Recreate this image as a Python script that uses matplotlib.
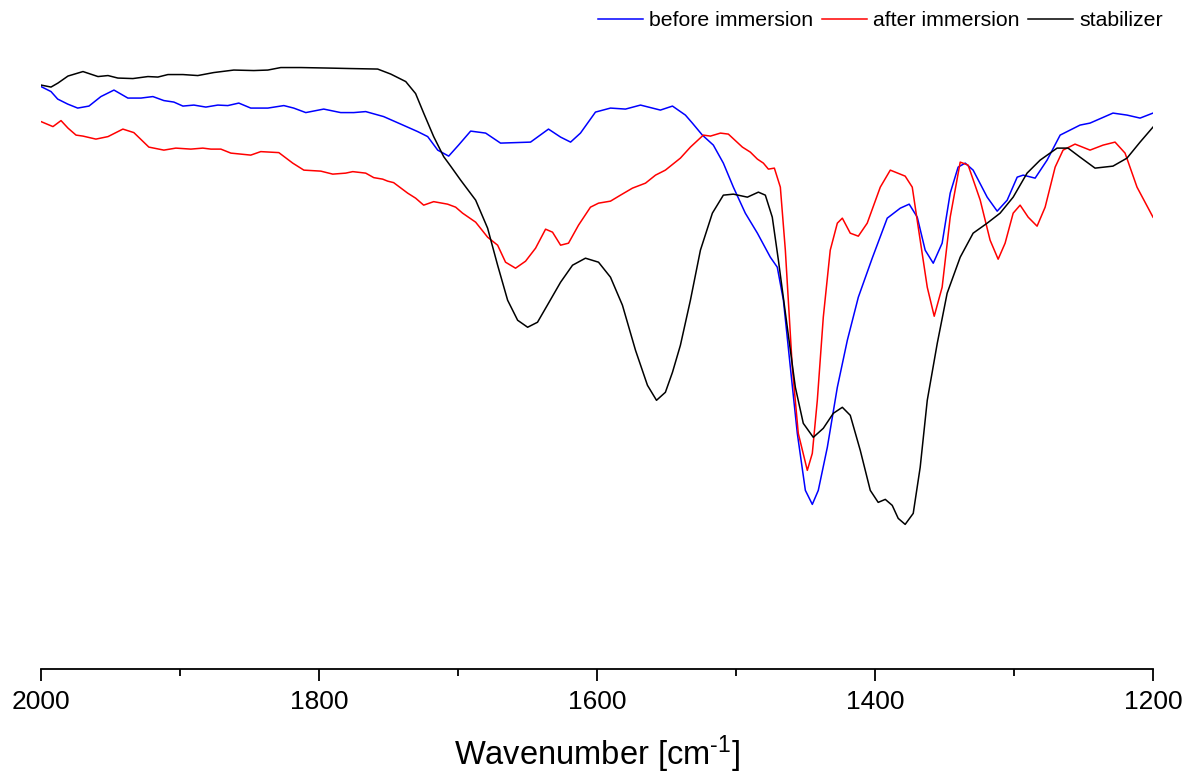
import matplotlib
matplotlib.use('Agg')
import matplotlib.pyplot as plt
from matplotlib.ticker import MultipleLocator

plt.rcParams['font.family'] = ['Liberation Sans', 'DejaVu Sans']
plt.rcParams['mathtext.default'] = 'regular'

# FTIR spectra, values (arbitrary transmittance units)
wn_before = [2000, 1992.8, 1988, 1980.8, 1973.6, 1965.5, 1956.9, 1947.5, 1937.5, 1928.1,
             1919.5, 1911.6, 1904.4, 1897.9, 1890.0, 1881.4, 1872.8, 1865.6, 1857.7, 1849.1,
             1836.8, 1825.3, 1818.2, 1809.5, 1796.6, 1784.4, 1775.0, 1766.4, 1753.5, 1741.2,
             1729.0, 1721.8, 1714.6, 1706.7, 1699.6, 1690.9, 1680.1, 1669.4, 1647.8, 1634.9,
             1626.2, 1619.0, 1611.9, 1601.1, 1590.3, 1579.5, 1568.7, 1554.4, 1545.7, 1536.4,
             1531.4, 1524.2, 1516.3, 1509.1, 1501.9, 1493.3, 1484.6, 1475.3, 1470.3, 1465.9,
             1460.9, 1455.9, 1450.1, 1445.1, 1440.8, 1434.3, 1427.1, 1419.9, 1412.0, 1402.0,
             1391.2, 1381.8, 1375.4, 1369.6, 1363.9, 1358.1, 1351.7, 1345.9, 1340.2, 1335.1,
             1329.4, 1319.3, 1312.1, 1304.9, 1297.7, 1293.4, 1284.8, 1276.2, 1266.8, 1252.5,
             1245.3, 1228.8, 1218.7, 1209.3, 1200]
t_before = [116.3, 115.3, 113.8, 112.8, 112.0, 112.4, 114.3, 115.6, 114.0, 114.0,
            114.3, 113.5, 113.2, 112.4, 112.6, 112.2, 112.6, 112.5, 113.0, 112.0,
            112.0, 112.5, 112.0, 111.1, 111.8, 111.1, 111.1, 111.3, 110.3, 108.8,
            107.3, 106.3, 103.6, 102.4, 104.6, 107.4, 107.0, 105.0, 105.2, 107.8,
            106.2, 105.2, 107.0, 111.2, 112.0, 111.8, 112.6, 111.6, 112.4, 110.6,
            109.0, 106.6, 104.6, 101.0, 96.2, 91.0, 87.0, 82.2, 80.2, 73.6,
            60.2, 47.0, 35.6, 32.8, 35.6, 44.2, 56.2, 65.6, 74.2, 82.0,
            90.0, 92.0, 92.8, 90.2, 83.6, 81.0, 85.0, 95.0, 100.2, 101.0,
            99.6, 94.2, 91.4, 93.6, 98.2, 98.6, 98.0, 101.6, 106.6, 108.6,
            109.0, 111.0, 110.6, 110.0, 111.0]

wn_after = [2000, 1991.4, 1985.6, 1980.6, 1974.8, 1969.8, 1960.5, 1951.8, 1941.1, 1933.2,
            1922.4, 1911.6, 1903.0, 1892.2, 1883.6, 1877.8, 1870.6, 1863.4, 1856.2, 1849.1,
            1841.9, 1828.9, 1818.9, 1810.9, 1798.7, 1790.1, 1780.8, 1775.7, 1766.4, 1760.6,
            1754.2, 1750.6, 1746.3, 1736.2, 1730.5, 1724.7, 1717.5, 1707.5, 1701.7, 1696.7,
            1687.3, 1678.7, 1671.5, 1665.8, 1658.6, 1651.4, 1644.2, 1637.0, 1632.0, 1626.2,
            1620.5, 1613.3, 1604.7, 1598.9, 1590.3, 1583.1, 1574.5, 1565.1, 1557.9, 1550.8,
            1540.0, 1532.8, 1523.5, 1518.4, 1511.2, 1505.5, 1495.4, 1489.7, 1484.6, 1480.3,
            1476.7, 1472.4, 1468.1, 1464.5, 1459.5, 1455.2, 1448.7, 1445.1, 1441.5, 1437.2,
            1432.2, 1427.1, 1423.5, 1417.8, 1412.0, 1405.6, 1396.2, 1389.0, 1378.3, 1373.2,
            1368.9, 1362.4, 1357.4, 1351.7, 1345.9, 1338.7, 1333.0, 1324.3, 1317.2, 1311.4,
            1306.4, 1300.6, 1295.6, 1289.8, 1283.4, 1277.6, 1270.4, 1264.7, 1256.1, 1245.3,
            1235.9, 1227.3, 1220.1, 1211.5, 1200]
t_after = [109.3, 108.3, 109.5, 108.0, 106.6, 106.4, 105.8, 106.3, 107.8, 107.1,
           104.2, 103.6, 104.0, 103.8, 104.0, 103.8, 103.8, 103.0, 102.8, 102.6,
           103.3, 103.1, 101.0, 99.6, 99.4, 98.8, 99.0, 99.3, 99.0, 98.1,
           97.8, 97.4, 97.1, 95.0, 94.0, 92.6, 93.3, 92.8, 92.2, 91.0,
           89.2, 86.2, 84.6, 81.2, 80.0, 81.4, 84.0, 87.8, 87.2, 84.6,
           85.0, 88.6, 92.2, 93.0, 93.4, 94.6, 96.0, 97.0, 98.6, 99.6,
           102.0, 104.2, 106.6, 106.4, 107.0, 106.8, 104.2, 103.2, 101.8, 101.0,
           99.8, 100.0, 96.2, 83.6, 60.2, 47.0, 39.6, 43.0, 53.6, 70.2,
           83.6, 89.0, 90.0, 87.0, 86.4, 89.0, 96.2, 99.6, 98.4, 96.2,
           88.2, 76.2, 70.4, 76.2, 90.2, 101.2, 100.6, 93.6, 85.6, 81.8,
           85.0, 91.0, 92.6, 90.2, 88.4, 92.2, 100.2, 103.6, 104.8, 103.6,
           104.6, 105.2, 103.0, 96.2, 90.2]

wn_stab = [2000, 1992.8, 1987.8, 1980.6, 1969.8, 1959.0, 1951.8, 1944.7, 1933.9, 1923.1,
           1915.9, 1908.7, 1897.9, 1887.2, 1875.7, 1861.3, 1846.9, 1836.8, 1827.5, 1813.1,
           1793.7, 1777.2, 1757.8, 1748.4, 1737.6, 1730.5, 1724.7, 1717.5, 1710.3, 1705.3,
           1698.1, 1687.3, 1678.7, 1671.5, 1664.3, 1657.1, 1649.9, 1642.8, 1634.9, 1626.2,
           1617.6, 1608.3, 1598.9, 1590.3, 1581.7, 1572.3, 1563.7, 1557.2, 1550.8, 1545.7,
           1540.0, 1532.8, 1525.6, 1517.0, 1509.1, 1501.9, 1491.8, 1483.9, 1478.9, 1473.9,
           1469.5, 1463.1, 1457.3, 1451.6, 1444.4, 1437.2, 1430.0, 1423.5, 1417.8, 1410.6,
           1403.4, 1397.7, 1392.6, 1387.6, 1383.3, 1378.3, 1372.5, 1367.5, 1362.4, 1355.2,
           1348.1, 1338.7, 1329.4, 1319.3, 1310.0, 1300.6, 1290.6, 1281.2, 1269.0, 1261.1,
           1252.5, 1241.7, 1228.8, 1218.7, 1209.3, 1200]
t_stab = [116.6, 116.2, 117.0, 118.4, 119.3, 118.3, 118.5, 118.0, 117.9, 118.3,
          118.2, 118.7, 118.7, 118.5, 119.1, 119.6, 119.5, 119.6, 120.1, 120.1,
          120.0, 119.9, 119.8, 118.8, 117.3, 114.9, 111.0, 106.3, 102.3, 100.4,
          97.6, 93.6, 88.0, 80.6, 73.6, 69.6, 68.2, 69.2, 73.0, 77.2,
          80.6, 82.0, 81.2, 78.2, 72.6, 63.6, 56.6, 53.6, 55.2, 59.2,
          64.6, 73.6, 83.6, 91.0, 94.6, 94.8, 94.2, 95.2, 94.6, 90.2,
          81.6, 68.2, 56.2, 49.0, 46.2, 48.0, 51.0, 52.2, 50.6, 43.6,
          35.6, 33.2, 33.8, 32.6, 30.0, 28.8, 31.0, 40.2, 53.6, 65.0,
          75.0, 82.2, 87.0, 89.0, 91.0, 94.2, 99.0, 101.6, 104.0, 104.0,
          102.2, 100.0, 100.4, 102.0, 105.2, 108.2]

fig = plt.figure(figsize=(11.91, 7.76), dpi=100)
ax = fig.add_axes([41 / 1191, 107.5 / 776, 1112 / 1191, 668.5 / 776])

ax.plot(wn_before, t_before, color='#0000FF', lw=1.1, label='before immersion')
ax.plot(wn_after, t_after, color='#FF0000', lw=1.1, label='after immersion')
ax.plot(wn_stab, t_stab, color='black', lw=1.1, label='stabilizer')

ax.set_xlim(2000, 1200)
ax.set_ylim(0, 133.6)
for s in ['top', 'left', 'right']:
    ax.spines[s].set_visible(False)
ax.spines['bottom'].set_linewidth(1.3)
ax.set_yticks([])
ax.xaxis.set_major_locator(MultipleLocator(200))
ax.xaxis.set_minor_locator(MultipleLocator(100))
ax.tick_params(axis='x', which='major', direction='out', length=8.6, width=1.3,
               labelsize=19, pad=7)
ax.tick_params(axis='x', which='minor', direction='out', length=5, width=1.3)
ax.set_xlabel('Wavenumber [cm$^{\u20101}$]', fontsize=23.5, labelpad=14)

fig.legend(loc='center right', bbox_to_anchor=(1163 / 1191, 1 - 21 / 776), ncol=3,
           frameon=False, fontsize=15.3, handlelength=2.1, handletextpad=0.3,
           columnspacing=0.42, borderpad=0, borderaxespad=0)

fig.savefig('out.png', dpi=100)
